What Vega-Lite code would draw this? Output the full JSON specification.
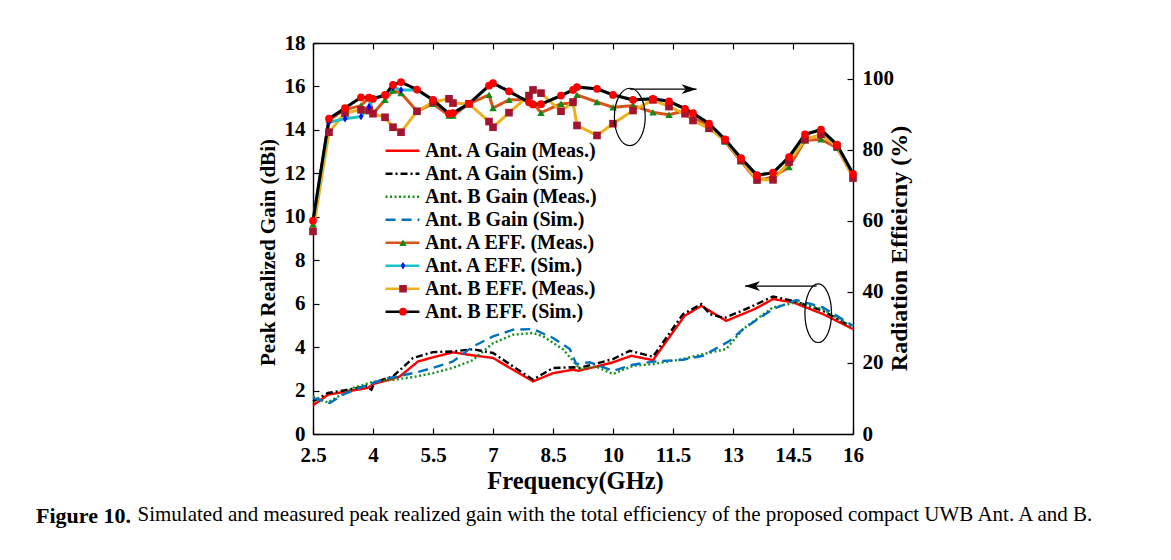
{
  "$schema": "https://vega.github.io/schema/vega-lite/v6.json",
  "width": 540,
  "height": 391,
  "autosize": "none",
  "padding": {"left": 313, "top": 43, "right": 318, "bottom": 126},
  "background": "white",
  "config": {
    "font": "Liberation Serif",
    "view": {"stroke": null},
    "axis": {
      "grid": false,
      "labelFlush": false,
      "domainColor": "black",
      "domainWidth": 1.4,
      "tickColor": "black",
      "tickWidth": 1.2,
      "tickSize": -6,
      "labelFont": "Liberation Serif",
      "labelFontWeight": "bold",
      "labelFontSize": 21,
      "labelColor": "black",
      "titleFont": "Liberation Serif",
      "titleFontWeight": "bold",
      "titleColor": "black"
    },
    "legend": {
      "orient": "none",
      "title": null,
      "padding": 0,
      "rowPadding": 3,
      "labelOffset": 4,
      "labelLimit": 0,
      "clipHeight": 20,
      "labelFont": "Liberation Serif",
      "labelFontWeight": "bold",
      "labelFontSize": 20,
      "labelColor": "black"
    }
  },
  "title": {
    "text": "Figure 10.",
    "orient": "bottom",
    "anchor": "start",
    "frame": "group",
    "dx": -277,
    "offset": -18,
    "font": "Liberation Serif",
    "fontSize": 22,
    "fontWeight": "bold",
    "color": "black"
  },
  "datasets": {
    "gain": [
      {"series": "Ant. A Gain (Meas.)", "f": 2.5, "v": 1.32},
      {"series": "Ant. A Gain (Meas.)", "f": 2.875, "v": 1.81},
      {"series": "Ant. A Gain (Meas.)", "f": 3.25, "v": 1.93},
      {"series": "Ant. A Gain (Meas.)", "f": 3.875, "v": 2.12},
      {"series": "Ant. A Gain (Meas.)", "f": 4.0, "v": 2.3},
      {"series": "Ant. A Gain (Meas.)", "f": 4.42, "v": 2.5},
      {"series": "Ant. A Gain (Meas.)", "f": 4.67, "v": 2.65},
      {"series": "Ant. A Gain (Meas.)", "f": 5.125, "v": 3.34},
      {"series": "Ant. A Gain (Meas.)", "f": 5.5, "v": 3.53},
      {"series": "Ant. A Gain (Meas.)", "f": 6.0, "v": 3.76},
      {"series": "Ant. A Gain (Meas.)", "f": 6.5, "v": 3.62},
      {"series": "Ant. A Gain (Meas.)", "f": 7.0, "v": 3.5},
      {"series": "Ant. A Gain (Meas.)", "f": 8.0, "v": 2.42},
      {"series": "Ant. A Gain (Meas.)", "f": 8.5, "v": 2.8},
      {"series": "Ant. A Gain (Meas.)", "f": 9.0, "v": 2.96},
      {"series": "Ant. A Gain (Meas.)", "f": 9.125, "v": 2.91},
      {"series": "Ant. A Gain (Meas.)", "f": 9.58, "v": 3.1},
      {"series": "Ant. A Gain (Meas.)", "f": 10.0, "v": 3.3},
      {"series": "Ant. A Gain (Meas.)", "f": 10.46, "v": 3.6},
      {"series": "Ant. A Gain (Meas.)", "f": 11.0, "v": 3.4},
      {"series": "Ant. A Gain (Meas.)", "f": 11.79, "v": 5.44},
      {"series": "Ant. A Gain (Meas.)", "f": 12.21, "v": 5.9},
      {"series": "Ant. A Gain (Meas.)", "f": 12.83, "v": 5.21},
      {"series": "Ant. A Gain (Meas.)", "f": 13.54, "v": 5.75},
      {"series": "Ant. A Gain (Meas.)", "f": 14.0, "v": 6.21},
      {"series": "Ant. A Gain (Meas.)", "f": 14.5, "v": 6.06},
      {"series": "Ant. A Gain (Meas.)", "f": 15.25, "v": 5.52},
      {"series": "Ant. A Gain (Meas.)", "f": 16.0, "v": 4.83},

      {"series": "Ant. A Gain (Sim.)", "f": 2.5, "v": 1.5},
      {"series": "Ant. A Gain (Sim.)", "f": 2.875, "v": 1.89},
      {"series": "Ant. A Gain (Sim.)", "f": 3.25, "v": 2.0},
      {"series": "Ant. A Gain (Sim.)", "f": 3.83, "v": 2.2},
      {"series": "Ant. A Gain (Sim.)", "f": 3.96, "v": 2.04},
      {"series": "Ant. A Gain (Sim.)", "f": 4.04, "v": 2.38},
      {"series": "Ant. A Gain (Sim.)", "f": 4.5, "v": 2.65},
      {"series": "Ant. A Gain (Sim.)", "f": 5.0, "v": 3.5},
      {"series": "Ant. A Gain (Sim.)", "f": 5.5, "v": 3.77},
      {"series": "Ant. A Gain (Sim.)", "f": 6.0, "v": 3.8},
      {"series": "Ant. A Gain (Sim.)", "f": 6.5, "v": 3.9},
      {"series": "Ant. A Gain (Sim.)", "f": 7.0, "v": 3.73},
      {"series": "Ant. A Gain (Sim.)", "f": 8.0, "v": 2.5},
      {"series": "Ant. A Gain (Sim.)", "f": 8.5, "v": 3.04},
      {"series": "Ant. A Gain (Sim.)", "f": 9.0, "v": 3.07},
      {"series": "Ant. A Gain (Sim.)", "f": 9.17, "v": 3.04},
      {"series": "Ant. A Gain (Sim.)", "f": 10.0, "v": 3.45},
      {"series": "Ant. A Gain (Sim.)", "f": 10.42, "v": 3.83},
      {"series": "Ant. A Gain (Sim.)", "f": 11.0, "v": 3.56},
      {"series": "Ant. A Gain (Sim.)", "f": 11.75, "v": 5.52},
      {"series": "Ant. A Gain (Sim.)", "f": 12.21, "v": 5.98},
      {"series": "Ant. A Gain (Sim.)", "f": 12.42, "v": 5.52},
      {"series": "Ant. A Gain (Sim.)", "f": 12.79, "v": 5.34},
      {"series": "Ant. A Gain (Sim.)", "f": 13.42, "v": 5.83},
      {"series": "Ant. A Gain (Sim.)", "f": 14.0, "v": 6.33},
      {"series": "Ant. A Gain (Sim.)", "f": 14.5, "v": 6.13},
      {"series": "Ant. A Gain (Sim.)", "f": 15.25, "v": 5.67},
      {"series": "Ant. A Gain (Sim.)", "f": 16.0, "v": 4.9},

      {"series": "Ant. B Gain (Meas.)", "f": 2.5, "v": 1.73},
      {"series": "Ant. B Gain (Meas.)", "f": 2.875, "v": 1.45},
      {"series": "Ant. B Gain (Meas.)", "f": 3.5, "v": 2.12},
      {"series": "Ant. B Gain (Meas.)", "f": 4.0, "v": 2.4},
      {"series": "Ant. B Gain (Meas.)", "f": 4.5, "v": 2.5},
      {"series": "Ant. B Gain (Meas.)", "f": 5.0, "v": 2.62},
      {"series": "Ant. B Gain (Meas.)", "f": 5.5, "v": 2.8},
      {"series": "Ant. B Gain (Meas.)", "f": 6.0, "v": 3.05},
      {"series": "Ant. B Gain (Meas.)", "f": 6.5, "v": 3.4},
      {"series": "Ant. B Gain (Meas.)", "f": 6.75, "v": 3.8},
      {"series": "Ant. B Gain (Meas.)", "f": 7.0, "v": 4.18},
      {"series": "Ant. B Gain (Meas.)", "f": 7.5, "v": 4.57},
      {"series": "Ant. B Gain (Meas.)", "f": 8.0, "v": 4.65},
      {"series": "Ant. B Gain (Meas.)", "f": 8.25, "v": 4.5},
      {"series": "Ant. B Gain (Meas.)", "f": 8.75, "v": 3.9},
      {"series": "Ant. B Gain (Meas.)", "f": 9.0, "v": 3.37},
      {"series": "Ant. B Gain (Meas.)", "f": 9.17, "v": 2.99},
      {"series": "Ant. B Gain (Meas.)", "f": 9.58, "v": 3.1},
      {"series": "Ant. B Gain (Meas.)", "f": 10.0, "v": 2.76},
      {"series": "Ant. B Gain (Meas.)", "f": 10.5, "v": 3.14},
      {"series": "Ant. B Gain (Meas.)", "f": 11.0, "v": 3.22},
      {"series": "Ant. B Gain (Meas.)", "f": 11.75, "v": 3.45},
      {"series": "Ant. B Gain (Meas.)", "f": 12.25, "v": 3.68},
      {"series": "Ant. B Gain (Meas.)", "f": 12.83, "v": 3.91},
      {"series": "Ant. B Gain (Meas.)", "f": 13.25, "v": 4.83},
      {"series": "Ant. B Gain (Meas.)", "f": 14.0, "v": 5.83},
      {"series": "Ant. B Gain (Meas.)", "f": 14.58, "v": 6.06},
      {"series": "Ant. B Gain (Meas.)", "f": 15.25, "v": 5.75},
      {"series": "Ant. B Gain (Meas.)", "f": 16.0, "v": 4.9},

      {"series": "Ant. B Gain (Sim.)", "f": 2.5, "v": 1.66},
      {"series": "Ant. B Gain (Sim.)", "f": 2.92, "v": 1.43},
      {"series": "Ant. B Gain (Sim.)", "f": 3.25, "v": 1.81},
      {"series": "Ant. B Gain (Sim.)", "f": 3.92, "v": 2.3},
      {"series": "Ant. B Gain (Sim.)", "f": 4.33, "v": 2.55},
      {"series": "Ant. B Gain (Sim.)", "f": 5.0, "v": 2.8},
      {"series": "Ant. B Gain (Sim.)", "f": 5.5, "v": 3.04},
      {"series": "Ant. B Gain (Sim.)", "f": 6.0, "v": 3.34},
      {"series": "Ant. B Gain (Sim.)", "f": 6.5, "v": 4.03},
      {"series": "Ant. B Gain (Sim.)", "f": 7.0, "v": 4.49},
      {"series": "Ant. B Gain (Sim.)", "f": 7.5, "v": 4.8},
      {"series": "Ant. B Gain (Sim.)", "f": 8.0, "v": 4.83},
      {"series": "Ant. B Gain (Sim.)", "f": 8.5, "v": 4.42},
      {"series": "Ant. B Gain (Sim.)", "f": 8.92, "v": 3.91},
      {"series": "Ant. B Gain (Sim.)", "f": 9.08, "v": 3.22},
      {"series": "Ant. B Gain (Sim.)", "f": 9.42, "v": 3.3},
      {"series": "Ant. B Gain (Sim.)", "f": 10.0, "v": 2.91},
      {"series": "Ant. B Gain (Sim.)", "f": 10.5, "v": 3.19},
      {"series": "Ant. B Gain (Sim.)", "f": 11.0, "v": 3.33},
      {"series": "Ant. B Gain (Sim.)", "f": 11.75, "v": 3.42},
      {"series": "Ant. B Gain (Sim.)", "f": 12.25, "v": 3.6},
      {"series": "Ant. B Gain (Sim.)", "f": 12.92, "v": 4.29},
      {"series": "Ant. B Gain (Sim.)", "f": 13.25, "v": 4.83},
      {"series": "Ant. B Gain (Sim.)", "f": 14.0, "v": 5.75},
      {"series": "Ant. B Gain (Sim.)", "f": 14.58, "v": 6.17},
      {"series": "Ant. B Gain (Sim.)", "f": 15.25, "v": 5.83},
      {"series": "Ant. B Gain (Sim.)", "f": 16.0, "v": 4.98}
    ],
    "eff": [
      {"series": "Ant. A EFF. (Meas.)", "f": 2.5, "v": 59},
      {"series": "Ant. A EFF. (Meas.)", "f": 2.9, "v": 88.4},
      {"series": "Ant. A EFF. (Meas.)", "f": 3.3, "v": 91.2},
      {"series": "Ant. A EFF. (Meas.)", "f": 3.7, "v": 92.4},
      {"series": "Ant. A EFF. (Meas.)", "f": 3.9, "v": 94.6},
      {"series": "Ant. A EFF. (Meas.)", "f": 4.0, "v": 90.1},
      {"series": "Ant. A EFF. (Meas.)", "f": 4.3, "v": 94.0},
      {"series": "Ant. A EFF. (Meas.)", "f": 4.5, "v": 96.6},
      {"series": "Ant. A EFF. (Meas.)", "f": 4.7, "v": 95.9},
      {"series": "Ant. A EFF. (Meas.)", "f": 5.1, "v": 90.8},
      {"series": "Ant. A EFF. (Meas.)", "f": 5.5, "v": 92.9},
      {"series": "Ant. A EFF. (Meas.)", "f": 5.9, "v": 89.6},
      {"series": "Ant. A EFF. (Meas.)", "f": 6.0, "v": 89.6},
      {"series": "Ant. A EFF. (Meas.)", "f": 6.4, "v": 92.9},
      {"series": "Ant. A EFF. (Meas.)", "f": 6.9, "v": 95.4},
      {"series": "Ant. A EFF. (Meas.)", "f": 7.0, "v": 91.7},
      {"series": "Ant. A EFF. (Meas.)", "f": 7.4, "v": 94.0},
      {"series": "Ant. A EFF. (Meas.)", "f": 7.9, "v": 94.0},
      {"series": "Ant. A EFF. (Meas.)", "f": 8.0, "v": 93.1},
      {"series": "Ant. A EFF. (Meas.)", "f": 8.2, "v": 90.4},
      {"series": "Ant. A EFF. (Meas.)", "f": 8.7, "v": 92.9},
      {"series": "Ant. A EFF. (Meas.)", "f": 9.0, "v": 93.1},
      {"series": "Ant. A EFF. (Meas.)", "f": 9.1, "v": 95.4},
      {"series": "Ant. A EFF. (Meas.)", "f": 9.6, "v": 93.4},
      {"series": "Ant. A EFF. (Meas.)", "f": 10.0, "v": 91.9},
      {"series": "Ant. A EFF. (Meas.)", "f": 10.5, "v": 92.4},
      {"series": "Ant. A EFF. (Meas.)", "f": 11.0, "v": 90.5},
      {"series": "Ant. A EFF. (Meas.)", "f": 11.4, "v": 89.8},
      {"series": "Ant. A EFF. (Meas.)", "f": 11.8, "v": 91.0},
      {"series": "Ant. A EFF. (Meas.)", "f": 12.0, "v": 89.0},
      {"series": "Ant. A EFF. (Meas.)", "f": 12.4, "v": 86.8},
      {"series": "Ant. A EFF. (Meas.)", "f": 12.8, "v": 82.3},
      {"series": "Ant. A EFF. (Meas.)", "f": 13.2, "v": 76.7},
      {"series": "Ant. A EFF. (Meas.)", "f": 13.6, "v": 71.3},
      {"series": "Ant. A EFF. (Meas.)", "f": 14.0, "v": 72.3},
      {"series": "Ant. A EFF. (Meas.)", "f": 14.4, "v": 75.1},
      {"series": "Ant. A EFF. (Meas.)", "f": 14.8, "v": 82.6},
      {"series": "Ant. A EFF. (Meas.)", "f": 15.2, "v": 82.9},
      {"series": "Ant. A EFF. (Meas.)", "f": 15.6, "v": 80.5},
      {"series": "Ant. A EFF. (Meas.)", "f": 16.0, "v": 72.5},

      {"series": "Ant. B EFF. (Meas.)", "f": 2.5, "v": 57},
      {"series": "Ant. B EFF. (Meas.)", "f": 2.9, "v": 84.9},
      {"series": "Ant. B EFF. (Meas.)", "f": 3.3, "v": 90.3},
      {"series": "Ant. B EFF. (Meas.)", "f": 3.7, "v": 91.2},
      {"series": "Ant. B EFF. (Meas.)", "f": 3.9, "v": 91.0},
      {"series": "Ant. B EFF. (Meas.)", "f": 4.0, "v": 90.1},
      {"series": "Ant. B EFF. (Meas.)", "f": 4.3, "v": 89.1},
      {"series": "Ant. B EFF. (Meas.)", "f": 4.5, "v": 86.3},
      {"series": "Ant. B EFF. (Meas.)", "f": 4.7, "v": 84.9},
      {"series": "Ant. B EFF. (Meas.)", "f": 5.1, "v": 90.8},
      {"series": "Ant. B EFF. (Meas.)", "f": 5.5, "v": 93.4},
      {"series": "Ant. B EFF. (Meas.)", "f": 5.9, "v": 94.3},
      {"series": "Ant. B EFF. (Meas.)", "f": 6.0, "v": 93.1},
      {"series": "Ant. B EFF. (Meas.)", "f": 6.4, "v": 92.9},
      {"series": "Ant. B EFF. (Meas.)", "f": 6.9, "v": 87.9},
      {"series": "Ant. B EFF. (Meas.)", "f": 7.0, "v": 86.3},
      {"series": "Ant. B EFF. (Meas.)", "f": 7.4, "v": 90.4},
      {"series": "Ant. B EFF. (Meas.)", "f": 7.9, "v": 95.2},
      {"series": "Ant. B EFF. (Meas.)", "f": 8.0, "v": 96.8},
      {"series": "Ant. B EFF. (Meas.)", "f": 8.2, "v": 95.9},
      {"series": "Ant. B EFF. (Meas.)", "f": 8.7, "v": 90.8},
      {"series": "Ant. B EFF. (Meas.)", "f": 9.0, "v": 93.4},
      {"series": "Ant. B EFF. (Meas.)", "f": 9.1, "v": 86.8},
      {"series": "Ant. B EFF. (Meas.)", "f": 9.6, "v": 84.0},
      {"series": "Ant. B EFF. (Meas.)", "f": 10.0, "v": 87.3},
      {"series": "Ant. B EFF. (Meas.)", "f": 10.5, "v": 91.0},
      {"series": "Ant. B EFF. (Meas.)", "f": 11.0, "v": 94.0},
      {"series": "Ant. B EFF. (Meas.)", "f": 11.4, "v": 92.1},
      {"series": "Ant. B EFF. (Meas.)", "f": 11.8, "v": 90.1},
      {"series": "Ant. B EFF. (Meas.)", "f": 12.0, "v": 88.2},
      {"series": "Ant. B EFF. (Meas.)", "f": 12.4, "v": 86.0},
      {"series": "Ant. B EFF. (Meas.)", "f": 12.8, "v": 82.6},
      {"series": "Ant. B EFF. (Meas.)", "f": 13.2, "v": 77.0},
      {"series": "Ant. B EFF. (Meas.)", "f": 13.6, "v": 71.5},
      {"series": "Ant. B EFF. (Meas.)", "f": 14.0, "v": 71.5},
      {"series": "Ant. B EFF. (Meas.)", "f": 14.4, "v": 76.5},
      {"series": "Ant. B EFF. (Meas.)", "f": 14.8, "v": 82.8},
      {"series": "Ant. B EFF. (Meas.)", "f": 15.2, "v": 84.3},
      {"series": "Ant. B EFF. (Meas.)", "f": 15.6, "v": 80.9},
      {"series": "Ant. B EFF. (Meas.)", "f": 16.0, "v": 72.0},

      {"series": "Ant. A EFF. (Sim.)", "f": 2.5, "v": 60},
      {"series": "Ant. A EFF. (Sim.)", "f": 2.9, "v": 87.7},
      {"series": "Ant. A EFF. (Sim.)", "f": 3.3, "v": 88.7},
      {"series": "Ant. A EFF. (Sim.)", "f": 3.7, "v": 89.3},
      {"series": "Ant. A EFF. (Sim.)", "f": 3.9, "v": 92.1},
      {"series": "Ant. A EFF. (Sim.)", "f": 4.0, "v": 94.3},
      {"series": "Ant. A EFF. (Sim.)", "f": 4.3, "v": 95.2},
      {"series": "Ant. A EFF. (Sim.)", "f": 4.5, "v": 97.5},
      {"series": "Ant. A EFF. (Sim.)", "f": 4.7, "v": 96.8},
      {"series": "Ant. A EFF. (Sim.)", "f": 5.1, "v": 96.8},
      {"series": "Ant. A EFF. (Sim.)", "f": 5.5, "v": 94.0},
      {"series": "Ant. A EFF. (Sim.)", "f": 5.9, "v": 90.1},
      {"series": "Ant. A EFF. (Sim.)", "f": 6.0, "v": 90.3},
      {"series": "Ant. A EFF. (Sim.)", "f": 6.4, "v": 92.9},
      {"series": "Ant. A EFF. (Sim.)", "f": 6.9, "v": 98.0},
      {"series": "Ant. A EFF. (Sim.)", "f": 7.0, "v": 98.7},
      {"series": "Ant. A EFF. (Sim.)", "f": 7.4, "v": 96.4},
      {"series": "Ant. A EFF. (Sim.)", "f": 7.9, "v": 93.3},
      {"series": "Ant. A EFF. (Sim.)", "f": 8.0, "v": 92.7},
      {"series": "Ant. A EFF. (Sim.)", "f": 8.2, "v": 92.8},
      {"series": "Ant. A EFF. (Sim.)", "f": 8.7, "v": 95.2},
      {"series": "Ant. A EFF. (Sim.)", "f": 9.0, "v": 96.8},
      {"series": "Ant. A EFF. (Sim.)", "f": 9.1, "v": 97.6},
      {"series": "Ant. A EFF. (Sim.)", "f": 9.6, "v": 97.1},
      {"series": "Ant. A EFF. (Sim.)", "f": 10.0, "v": 95.4},
      {"series": "Ant. A EFF. (Sim.)", "f": 10.5, "v": 94.0},
      {"series": "Ant. A EFF. (Sim.)", "f": 11.0, "v": 94.3},
      {"series": "Ant. A EFF. (Sim.)", "f": 11.4, "v": 93.6},
      {"series": "Ant. A EFF. (Sim.)", "f": 11.8, "v": 91.5},
      {"series": "Ant. A EFF. (Sim.)", "f": 12.0, "v": 90.3},
      {"series": "Ant. A EFF. (Sim.)", "f": 12.4, "v": 87.3},
      {"series": "Ant. A EFF. (Sim.)", "f": 12.8, "v": 82.9},
      {"series": "Ant. A EFF. (Sim.)", "f": 13.2, "v": 77.6},
      {"series": "Ant. A EFF. (Sim.)", "f": 13.6, "v": 72.8},
      {"series": "Ant. A EFF. (Sim.)", "f": 14.0, "v": 73.5},
      {"series": "Ant. A EFF. (Sim.)", "f": 14.4, "v": 77.9},
      {"series": "Ant. A EFF. (Sim.)", "f": 14.8, "v": 84.3},
      {"series": "Ant. A EFF. (Sim.)", "f": 15.2, "v": 85.6},
      {"series": "Ant. A EFF. (Sim.)", "f": 15.6, "v": 81.4},
      {"series": "Ant. A EFF. (Sim.)", "f": 16.0, "v": 73.2},

      {"series": "Ant. B EFF. (Sim.)", "f": 2.5, "v": 60},
      {"series": "Ant. B EFF. (Sim.)", "f": 2.9, "v": 88.7},
      {"series": "Ant. B EFF. (Sim.)", "f": 3.3, "v": 91.7},
      {"series": "Ant. B EFF. (Sim.)", "f": 3.7, "v": 94.7},
      {"series": "Ant. B EFF. (Sim.)", "f": 3.9, "v": 94.6},
      {"series": "Ant. B EFF. (Sim.)", "f": 4.0, "v": 94.3},
      {"series": "Ant. B EFF. (Sim.)", "f": 4.3, "v": 95.4},
      {"series": "Ant. B EFF. (Sim.)", "f": 4.5, "v": 98.2},
      {"series": "Ant. B EFF. (Sim.)", "f": 4.7, "v": 99.0},
      {"series": "Ant. B EFF. (Sim.)", "f": 5.1, "v": 96.9},
      {"series": "Ant. B EFF. (Sim.)", "f": 5.5, "v": 94.0},
      {"series": "Ant. B EFF. (Sim.)", "f": 5.9, "v": 90.1},
      {"series": "Ant. B EFF. (Sim.)", "f": 6.0, "v": 90.3},
      {"series": "Ant. B EFF. (Sim.)", "f": 6.4, "v": 92.9},
      {"series": "Ant. B EFF. (Sim.)", "f": 6.9, "v": 98.0},
      {"series": "Ant. B EFF. (Sim.)", "f": 7.0, "v": 98.7},
      {"series": "Ant. B EFF. (Sim.)", "f": 7.4, "v": 96.4},
      {"series": "Ant. B EFF. (Sim.)", "f": 7.9, "v": 93.3},
      {"series": "Ant. B EFF. (Sim.)", "f": 8.0, "v": 92.7},
      {"series": "Ant. B EFF. (Sim.)", "f": 8.2, "v": 92.8},
      {"series": "Ant. B EFF. (Sim.)", "f": 8.7, "v": 95.2},
      {"series": "Ant. B EFF. (Sim.)", "f": 9.0, "v": 96.8},
      {"series": "Ant. B EFF. (Sim.)", "f": 9.1, "v": 97.6},
      {"series": "Ant. B EFF. (Sim.)", "f": 9.6, "v": 97.1},
      {"series": "Ant. B EFF. (Sim.)", "f": 10.0, "v": 95.4},
      {"series": "Ant. B EFF. (Sim.)", "f": 10.5, "v": 94.0},
      {"series": "Ant. B EFF. (Sim.)", "f": 11.0, "v": 94.3},
      {"series": "Ant. B EFF. (Sim.)", "f": 11.4, "v": 93.6},
      {"series": "Ant. B EFF. (Sim.)", "f": 11.8, "v": 91.5},
      {"series": "Ant. B EFF. (Sim.)", "f": 12.0, "v": 90.3},
      {"series": "Ant. B EFF. (Sim.)", "f": 12.4, "v": 87.3},
      {"series": "Ant. B EFF. (Sim.)", "f": 12.8, "v": 82.9},
      {"series": "Ant. B EFF. (Sim.)", "f": 13.2, "v": 77.6},
      {"series": "Ant. B EFF. (Sim.)", "f": 13.6, "v": 72.8},
      {"series": "Ant. B EFF. (Sim.)", "f": 14.0, "v": 73.5},
      {"series": "Ant. B EFF. (Sim.)", "f": 14.4, "v": 77.9},
      {"series": "Ant. B EFF. (Sim.)", "f": 14.8, "v": 84.3},
      {"series": "Ant. B EFF. (Sim.)", "f": 15.2, "v": 85.6},
      {"series": "Ant. B EFF. (Sim.)", "f": 15.6, "v": 81.4},
      {"series": "Ant. B EFF. (Sim.)", "f": 16.0, "v": 73.2}
    ],
    "gainNote": [
      {"part": "ring", "f": 15.13, "v": 5.56},
      {"part": "arrow", "f": 15.09, "f2": 13.3, "v": 6.81},
      {"part": "tip", "f": 13.3, "v": 6.81}
    ],
    "effNote": [
      {"part": "ring", "f": 10.42, "v": 89.2},
      {"part": "arrow", "f": 10.42, "f2": 12.09, "v": 97.0},
      {"part": "tip", "f": 12.09, "v": 97.0}
    ]
  },
  "layer": [
    {
      "encoding": {
        "x": {
          "field": "f",
          "type": "quantitative",
          "scale": {"domain": [2.5, 16], "nice": false, "zero": false},
          "axis": {
            "orient": "bottom",
            "values": [2.5, 4, 5.5, 7, 8.5, 10, 11.5, 13, 14.5, 16],
            "format": ".3~g",
            "labelPadding": 16,
            "title": "Frequency(GHz)",
            "titleFontSize": 24.5,
            "titlePadding": 4,
            "titleX": 262
          }
        },
        "y": {
          "field": "v",
          "type": "quantitative",
          "scale": {"domain": [0, 18], "nice": false},
          "axis": {
            "orient": "left",
            "values": [0, 2, 4, 6, 8, 10, 12, 14, 16, 18],
            "labelPadding": 14,
            "title": "Peak Realized Gain (dBi)",
            "titleFontSize": 21,
            "titlePadding": 6,
            "titleY": 209
          }
        }
      },
      "layer": [
        {
          "data": {"name": "gain"},
          "mark": {"type": "line", "strokeWidth": 2.4},
          "encoding": {
            "stroke": {
              "field": "series",
              "type": "nominal",
              "scale": {
                "domain": ["Ant. A Gain (Meas.)", "Ant. A Gain (Sim.)", "Ant. B Gain (Meas.)", "Ant. B Gain (Sim.)", "Ant. A EFF. (Meas.)", "Ant. A EFF. (Sim.)", "Ant. B EFF. (Meas.)", "Ant. B EFF. (Sim.)"],
                "range": ["#ff0000", "#000000", "#12901a", "#0072bd", "#d95319", "#1ac4c4", "#edb120", "#000000"]
              },
              "legend": {"legendX": 71, "legendY": 97.7, "symbolType": "stroke", "symbolSize": 1150, "symbolStrokeWidth": 2.5}
            },
            "strokeDash": {
              "field": "series",
              "type": "nominal",
              "scale": {
                "domain": ["Ant. A Gain (Meas.)", "Ant. A Gain (Sim.)", "Ant. B Gain (Meas.)", "Ant. B Gain (Sim.)", "Ant. A EFF. (Meas.)", "Ant. A EFF. (Sim.)", "Ant. B EFF. (Meas.)", "Ant. B EFF. (Sim.)"],
                "range": [[1, 0], [7, 3, 2, 3], [2, 2.5], [10, 6], [1, 0], [1, 0], [1, 0], [1, 0]]
              },
              "legend": {"legendX": 71, "legendY": 97.7, "symbolType": "stroke", "symbolSize": 1150, "symbolStrokeWidth": 2.5}
            }
          }
        },
        {
          "data": {"name": "gainNote"},
          "transform": [{"filter": "datum.part === 'ring'"}],
          "mark": {"type": "point", "filled": false, "stroke": "black", "strokeWidth": 1.2, "opacity": 1, "size": 3434, "shape": "M0,-1A0.454,1,0,1,1,0,1A0.454,1,0,1,1,0,-1Z"}
        },
        {
          "data": {"name": "gainNote"},
          "transform": [{"filter": "datum.part === 'arrow'"}],
          "mark": {"type": "rule", "stroke": "black", "strokeWidth": 1.2},
          "encoding": {"x2": {"field": "f2"}}
        },
        {
          "data": {"name": "gainNote"},
          "transform": [{"filter": "datum.part === 'tip'"}],
          "mark": {"type": "point", "filled": true, "fill": "black", "strokeWidth": 0, "opacity": 1, "size": 225, "shape": "M0,0L2,-0.65L1.45,0L2,0.65Z"}
        }
      ]
    },
    {
      "encoding": {
        "x": {
          "field": "f",
          "type": "quantitative",
          "scale": {"domain": [2.5, 16], "nice": false, "zero": false},
          "axis": {
            "orient": "top",
            "values": [2.5, 4, 5.5, 7, 8.5, 10, 11.5, 13, 14.5, 16],
            "labels": false,
            "title": "Simulated and measured peak realized gain with the total efficiency of the proposed compact UWB Ant. A and B.",
            "titleFontWeight": "normal",
            "titleFontSize": 21,
            "titleAngle": 0,
            "titleAlign": "left",
            "titleBaseline": "alphabetic",
            "titleX": -176,
            "titleY": 477
          }
        },
        "y": {
          "field": "v",
          "type": "quantitative",
          "scale": {"domain": [0, 110], "nice": false},
          "axis": {
            "orient": "right",
            "values": [0, 20, 40, 60, 80, 100],
            "labelPadding": 15,
            "title": "Radiation Effieicny (%)",
            "titleAngle": 270,
            "titleFontSize": 24,
            "titlePadding": 18,
            "titleY": 205
          }
        }
      },
      "layer": [
        {
          "data": {"name": "eff"},
          "mark": {"type": "line", "strokeWidth": 3},
          "encoding": {
            "stroke": {
              "field": "series",
              "type": "nominal",
              "scale": {
                "domain": ["Ant. A Gain (Meas.)", "Ant. A Gain (Sim.)", "Ant. B Gain (Meas.)", "Ant. B Gain (Sim.)", "Ant. A EFF. (Meas.)", "Ant. A EFF. (Sim.)", "Ant. B EFF. (Meas.)", "Ant. B EFF. (Sim.)"],
                "range": ["#ff0000", "#000000", "#12901a", "#0072bd", "#d95319", "#1ac4c4", "#edb120", "#000000"]
              },
              "legend": {"legendX": 71, "legendY": 97.7, "symbolType": "stroke", "symbolSize": 1150, "symbolStrokeWidth": 2.5}
            },
            "strokeDash": {
              "field": "series",
              "type": "nominal",
              "scale": {
                "domain": ["Ant. A Gain (Meas.)", "Ant. A Gain (Sim.)", "Ant. B Gain (Meas.)", "Ant. B Gain (Sim.)", "Ant. A EFF. (Meas.)", "Ant. A EFF. (Sim.)", "Ant. B EFF. (Meas.)", "Ant. B EFF. (Sim.)"],
                "range": [[1, 0], [7, 3, 2, 3], [2, 2.5], [10, 6], [1, 0], [1, 0], [1, 0], [1, 0]]
              },
              "legend": {"legendX": 71, "legendY": 97.7, "symbolType": "stroke", "symbolSize": 1150, "symbolStrokeWidth": 2.5}
            }
          }
        },
        {
          "data": {"name": "eff"},
          "mark": {"type": "point", "filled": true, "opacity": 1, "strokeWidth": 0},
          "encoding": {
            "fill": {
              "field": "series",
              "type": "nominal",
              "scale": {
                "domain": ["Ant. A EFF. (Meas.)", "Ant. A EFF. (Sim.)", "Ant. B EFF. (Meas.)", "Ant. B EFF. (Sim.)"],
                "range": ["#138a13", "#0000ff", "#a2142f", "#ff0000"]
              },
              "legend": {"legendX": 80, "legendY": 189.7, "labelExpr": "''"}
            },
            "shape": {
              "field": "series",
              "type": "nominal",
              "scale": {
                "domain": ["Ant. A EFF. (Meas.)", "Ant. A EFF. (Sim.)", "Ant. B EFF. (Meas.)", "Ant. B EFF. (Sim.)"],
                "range": ["triangle-up", "M0,-1L0.62,0L0,1L-0.62,0Z", "square", "circle"]
              },
              "legend": {"legendX": 80, "legendY": 189.7, "labelExpr": "''"}
            },
            "size": {
              "field": "series",
              "type": "nominal",
              "scale": {
                "domain": ["Ant. A EFF. (Meas.)", "Ant. A EFF. (Sim.)", "Ant. B EFF. (Meas.)", "Ant. B EFF. (Sim.)"],
                "range": [55, 60, 40, 64]
              },
              "legend": {"legendX": 80, "legendY": 189.7, "labelExpr": "''"}
            }
          }
        },
        {
          "data": {"name": "effNote"},
          "transform": [{"filter": "datum.part === 'ring'"}],
          "mark": {"type": "point", "filled": false, "stroke": "black", "strokeWidth": 1.2, "opacity": 1, "size": 3295, "shape": "M0,-1A0.537,1,0,1,1,0,1A0.537,1,0,1,1,0,-1Z"}
        },
        {
          "data": {"name": "effNote"},
          "transform": [{"filter": "datum.part === 'arrow'"}],
          "mark": {"type": "rule", "stroke": "black", "strokeWidth": 1.2},
          "encoding": {"x2": {"field": "f2"}}
        },
        {
          "data": {"name": "effNote"},
          "transform": [{"filter": "datum.part === 'tip'"}],
          "mark": {"type": "point", "filled": true, "fill": "black", "strokeWidth": 0, "opacity": 1, "size": 225, "shape": "M0,0L-2,-0.65L-1.45,0L-2,0.65Z"}
        }
      ]
    }
  ],
  "resolve": {
    "scale": {"y": "independent"},
    "axis": {"x": "independent", "y": "independent"}
  }
}
